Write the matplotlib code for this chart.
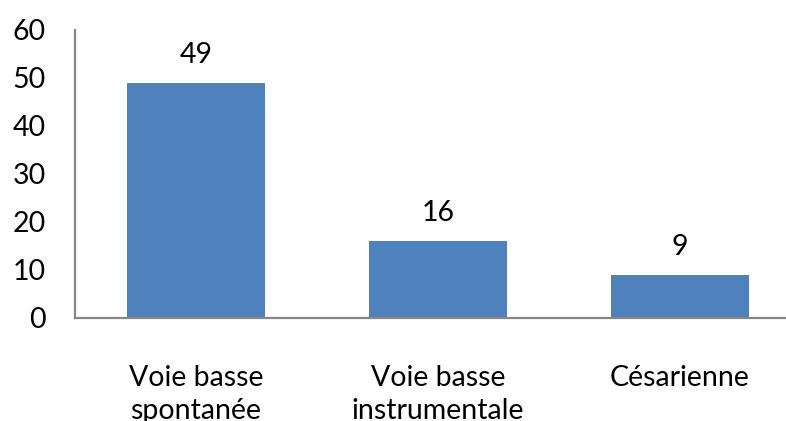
import matplotlib
matplotlib.use("Agg")
import matplotlib.pyplot as plt

categories = ["Voie basse\nspontanée", "Voie basse\ninstrumentale", "Césarienne"]
values = [49, 16, 9]
yticks = [0, 10, 20, 30, 40, 50, 60]

plt.rcParams["font.family"] = ["Lato", "DejaVu Sans"]

fig = plt.figure(figsize=(7.86, 4.21), dpi=100)
# axes runs past the right edge, like the original
ax = fig.add_axes([75 / 786, 103 / 421, 726 / 786, 288 / 421])
x = range(len(values))
ax.bar(x, values, width=0.57, color="#4F81BD", zorder=2)
for xi, v in zip(x, values):
    ax.annotate(str(v), (xi, v), xytext=(0, 14.5), textcoords="offset points",
                ha="center", va="baseline", fontsize=20.5)

ax.set_xlim(-0.5, 2.5)
ax.set_ylim(0, 60)
ax.set_yticks(yticks)
ax.set_xticks(list(x))
ax.set_xticklabels(categories, linespacing=1.3)
ax.tick_params(axis="y", length=0, pad=21, labelsize=20.5)
ax.tick_params(axis="x", length=0, pad=34, labelsize=20.5)
for s in ["top", "right"]:
    ax.spines[s].set_visible(False)
for s in ["left", "bottom"]:
    ax.spines[s].set_color("#868686")
    ax.spines[s].set_linewidth(1.6)

fig.savefig("out.png", dpi=100)
